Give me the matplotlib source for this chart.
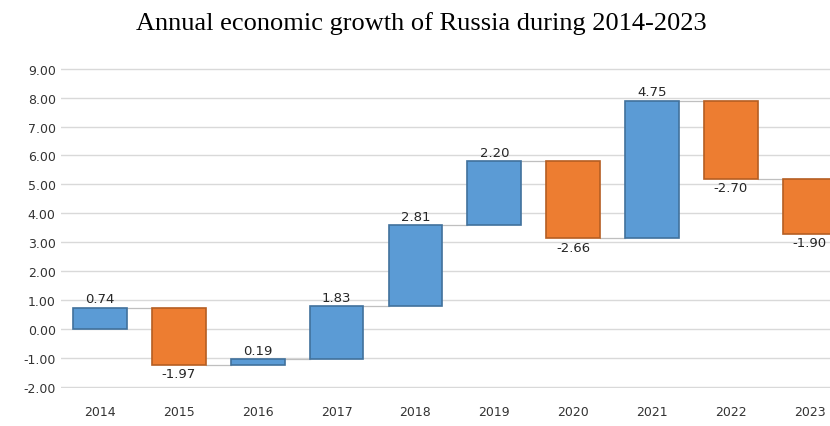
import matplotlib
matplotlib.use("Agg")
import matplotlib.pyplot as plt
import numpy as np

# Data
years = ["2014", "2015", "2016", "2017", "2018", "2019", "2020", "2021", "2022", "2023"]
growth = [0.74, -1.97, 0.19, 1.83, 2.81, 2.20, -2.66, 4.75, -2.70, -1.90]
y_ticks = [-2, -1, 0, 1, 2, 3, 4, 5, 6, 7, 8, 9]

# Waterfall bases
vals = np.array(growth)
ends = np.cumsum(vals)
starts = ends - vals
x = np.arange(len(years))

blue, blue_edge = "#5B9BD5", "#41719C"
orange, orange_edge = "#ED7D31", "#B55E22"

fig = plt.figure(figsize=(8.3, 4.27), dpi=100)
ax = fig.add_axes([0.073, 0.0890, 0.950, 0.750])

colors = [blue if v >= 0 else orange for v in vals]
edges = [blue_edge if v >= 0 else orange_edge for v in vals]
ax.bar(x, vals, bottom=starts, width=0.68, color=colors, edgecolor=edges,
       linewidth=1.2, zorder=3)

# Connector lines
for i in range(len(x) - 1):
    ax.plot([x[i] + 0.34, x[i + 1] - 0.34], [ends[i], ends[i]],
            color="#BFBFBF", linewidth=0.9, zorder=2)

# Data labels
for i, v in enumerate(vals):
    top = max(starts[i], ends[i])
    bot = min(starts[i], ends[i])
    if v >= 0:
        ax.text(x[i], top + 0.08, f"{v:.2f}", ha="center", va="bottom",
                fontsize=9.5, color="#262626")
    else:
        ax.text(x[i], bot - 0.08, f"{v:.2f}", ha="center", va="top",
                fontsize=9.5, color="#262626")

ax.set_xlim(-0.5, 9.5)
ax.set_ylim(-2.03, 9.03)
ax.set_yticks(y_ticks)
ax.set_yticklabels([f"{t:.2f}" for t in y_ticks])
ax.set_xticks(x)
ax.set_xticklabels(years)
ax.tick_params(length=0, labelsize=9, labelcolor="#333333")
ax.tick_params(axis="x", pad=12)
ax.grid(axis="y", color="#D9D9D9", linewidth=1.0, zorder=0)
for s in ax.spines.values():
    s.set_visible(False)

fig.text(0.508, 0.945, "Annual economic growth of Russia during 2014-2023",
         ha="center", va="center", fontsize=19, family="Liberation Serif")

fig.savefig("out.png", dpi=100)
